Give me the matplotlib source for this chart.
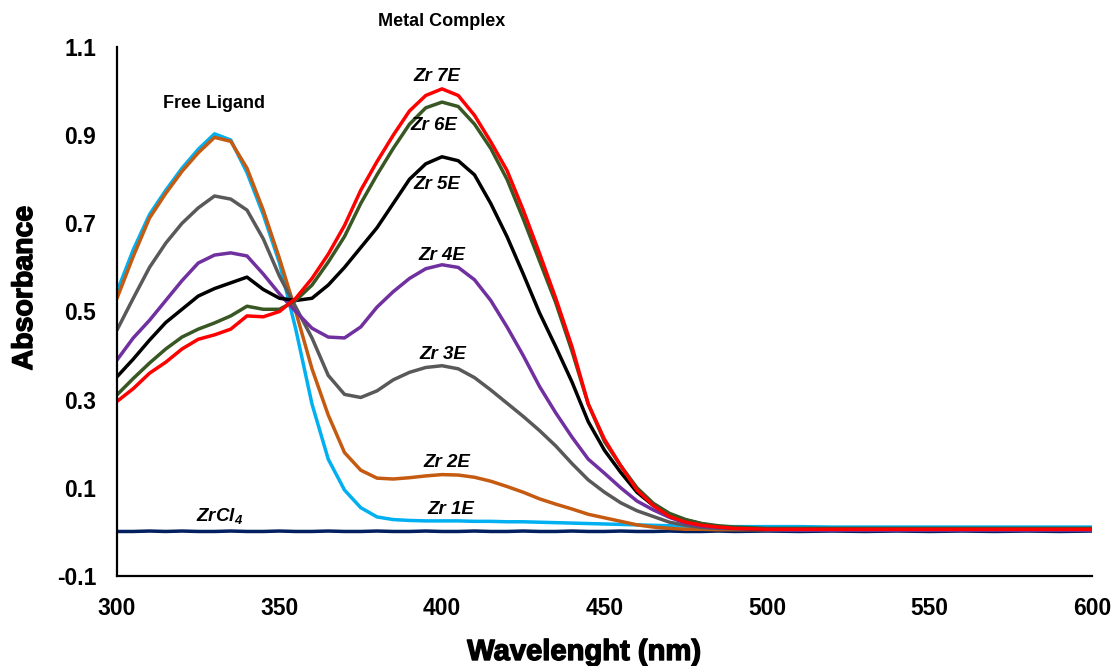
import matplotlib
matplotlib.use("Agg")
import matplotlib.pyplot as plt
import matplotlib.patheffects as pe

plt.rcParams['font.family'] = ['Liberation Sans', 'DejaVu Sans']
plt.rcParams['mathtext.fontset'] = 'custom'
plt.rcParams['mathtext.it'] = 'Liberation Sans:italic:bold'
plt.rcParams['mathtext.bf'] = 'Liberation Sans:italic:bold'
plt.rcParams['mathtext.rm'] = 'Liberation Sans:italic:bold'

# Wavelength grid (nm)
wavelength = [300, 305, 310, 315, 320, 325, 330, 335, 340, 345,
              350, 355, 360, 365, 370, 375, 380, 385, 390, 395,
              400, 405, 410, 415, 420, 425, 430, 435, 440, 445,
              450, 455, 460, 465, 470, 475, 480, 485, 490,
              500, 510, 520, 530, 540, 550, 560, 570, 580, 590, 600]

# Absorbance spectra
zrcl4 = [0.001, 0.001, 0.002, 0.001, 0.002, 0.001, 0.001, 0.002, 0.001, 0.001,
         0.002, 0.001, 0.001, 0.002, 0.001, 0.001, 0.002, 0.001, 0.001, 0.002,
         0.001, 0.001, 0.002, 0.001, 0.001, 0.002, 0.001, 0.001, 0.002, 0.001,
         0.001, 0.002, 0.001, 0.001, 0.002, 0.001, 0.001, 0.002, 0.001,
         0.002, 0.001, 0.002, 0.001, 0.002, 0.001, 0.002, 0.001, 0.002, 0.001, 0.002]

zr_1e = [0.545, 0.640, 0.720, 0.775, 0.825, 0.868, 0.903, 0.889, 0.815, 0.720,
         0.610, 0.460, 0.290, 0.165, 0.095, 0.055, 0.034, 0.028, 0.026, 0.025,
         0.025, 0.025, 0.024, 0.024, 0.023, 0.023, 0.022, 0.021, 0.020, 0.019,
         0.018, 0.017, 0.016, 0.015, 0.014, 0.013, 0.013, 0.012, 0.012,
         0.012, 0.012, 0.011, 0.011, 0.011, 0.011, 0.011, 0.011, 0.011, 0.011, 0.011]

zr_2e = [0.530, 0.625, 0.712, 0.768, 0.818, 0.860, 0.895, 0.886, 0.825, 0.730,
         0.620, 0.500, 0.370, 0.265, 0.180, 0.140, 0.122, 0.120, 0.123, 0.127,
         0.130, 0.129, 0.124, 0.115, 0.103, 0.090, 0.075, 0.063, 0.052, 0.040,
         0.032, 0.024, 0.016, 0.011, 0.008, 0.006, 0.006, 0.005, 0.005,
         0.005, 0.005, 0.005, 0.005, 0.005, 0.005, 0.005, 0.005, 0.005, 0.005, 0.005]

zr_3e = [0.458, 0.530, 0.600, 0.655, 0.700, 0.735, 0.762, 0.755, 0.730, 0.665,
         0.580, 0.510, 0.440, 0.355, 0.312, 0.305, 0.320, 0.345, 0.362, 0.373,
         0.377, 0.370, 0.350, 0.322, 0.292, 0.262, 0.230, 0.195, 0.155, 0.118,
         0.090, 0.066, 0.048, 0.035, 0.022, 0.015, 0.010, 0.008, 0.007,
         0.005, 0.005, 0.005, 0.005, 0.005, 0.005, 0.005, 0.005, 0.005, 0.005, 0.005]

zr_4e = [0.390, 0.440, 0.480, 0.525, 0.570, 0.610, 0.628, 0.633, 0.626, 0.585,
         0.540, 0.500, 0.462, 0.442, 0.440, 0.465, 0.510, 0.545, 0.575, 0.597,
         0.606, 0.600, 0.572, 0.525, 0.465, 0.400, 0.330, 0.270, 0.215, 0.165,
         0.133, 0.100, 0.070, 0.050, 0.033, 0.020, 0.013, 0.010, 0.008,
         0.005, 0.004, 0.004, 0.004, 0.004, 0.004, 0.004, 0.004, 0.004, 0.004, 0.004]

zr_5e = [0.352, 0.392, 0.435, 0.475, 0.505, 0.535, 0.552, 0.565, 0.578, 0.550,
         0.530, 0.525, 0.530, 0.560, 0.600, 0.645, 0.690, 0.745, 0.800, 0.835,
         0.851, 0.842, 0.810, 0.745, 0.670, 0.585, 0.497, 0.420, 0.340, 0.250,
         0.185, 0.135, 0.090, 0.060, 0.040, 0.027, 0.018, 0.012, 0.009,
         0.006, 0.006, 0.006, 0.006, 0.006, 0.006, 0.006, 0.006, 0.006, 0.006, 0.006]

zr_6e = [0.311, 0.348, 0.383, 0.415, 0.442, 0.460, 0.474, 0.490, 0.512, 0.505,
         0.505, 0.525, 0.560, 0.612, 0.670, 0.745, 0.810, 0.870, 0.925, 0.962,
         0.975, 0.965, 0.925, 0.870, 0.800, 0.710, 0.615, 0.520, 0.410, 0.290,
         0.205, 0.150, 0.100, 0.065, 0.042, 0.028, 0.019, 0.014, 0.011,
         0.008, 0.008, 0.008, 0.008, 0.008, 0.008, 0.008, 0.008, 0.008, 0.008, 0.008]

zr_7e = [0.296, 0.325, 0.360, 0.385, 0.415, 0.437, 0.447, 0.460, 0.490, 0.488,
         0.500, 0.530, 0.575, 0.630, 0.695, 0.775, 0.840, 0.900, 0.955, 0.990,
         1.005, 0.990, 0.945, 0.885, 0.820, 0.730, 0.632, 0.530, 0.420, 0.290,
         0.210, 0.150, 0.095, 0.060, 0.035, 0.022, 0.015, 0.011, 0.008,
         0.006, 0.006, 0.006, 0.006, 0.006, 0.006, 0.006, 0.006, 0.006, 0.006, 0.006]

series = [
    (zrcl4, '#002060'),
    (zr_1e, '#00B0F0'),
    (zr_2e, '#C55A11'),
    (zr_3e, '#595959'),
    (zr_4e, '#7030A0'),
    (zr_5e, '#000000'),
    (zr_6e, '#385723'),
    (zr_7e, '#FF0000'),
]

x_ticks = [300, 350, 400, 450, 500, 550, 600]
y_ticks = [-0.1, 0.1, 0.3, 0.5, 0.7, 0.9, 1.1]
y_tick_labels = ['-0.1', '0.1', '0.3', '0.5', '0.7', '0.9', '1.1']

# Curve labels: (text, x, y)
curve_labels = [
    ('Zr 7E', 398.5, 1.034),
    ('Zr 6E', 397.5, 0.921),
    ('Zr 5E', 398.5, 0.789),
    ('Zr 4E', 400.0, 0.628),
    ('Zr 3E', 400.3, 0.402),
    ('Zr 2E', 401.5, 0.157),
    ('Zr 1E', 402.8, 0.050),
    (r'ZrCl$_\mathbf{4}$', 331.7, 0.037),
]

fig = plt.figure(figsize=(11.14, 6.66), dpi=100)
ax = fig.add_axes([117 / 1114, 1 - 576 / 666, (1092 - 117) / 1114, (576 - 47) / 666])

for values, color in series:
    ax.plot(wavelength, values, color=color, lw=2.5,
            solid_capstyle='round', solid_joinstyle='round')

ax.set_xlim(300, 600)
ax.set_ylim(-0.1, 1.1)
ax.set_xticks(x_ticks)
ax.set_xticklabels([str(t) for t in x_ticks])
ax.set_yticks(y_ticks)
ax.set_yticklabels(y_tick_labels)
ax.tick_params(axis='both', length=0, labelsize=16.5, pad=15)
for lab in ax.get_xticklabels() + ax.get_yticklabels():
    lab.set_fontweight('bold')

for side in ('top', 'right'):
    ax.spines[side].set_visible(False)
for side in ('left', 'bottom'):
    ax.spines[side].set_linewidth(1.6)
    ax.spines[side].set_color('black')

for text, x, y in curve_labels:
    ax.text(x, y, text, ha='center', va='center', fontsize=13.5,
            fontweight='bold', fontstyle='italic', color='black')

ax.text(329.8, 0.971, 'Free Ligand', ha='center', va='center',
        fontsize=13, fontweight='bold')
ax.text(400.0, 1.157, 'Metal Complex', ha='center', va='center',
        fontsize=13, fontweight='bold', clip_on=False)

heavy = [pe.withStroke(linewidth=1.0, foreground='black')]
fig.text(584 / 1114, 1 - 652 / 666, 'Wavelenght (nm)', ha='center', va='center',
         fontsize=21, fontweight='bold', path_effects=heavy)
fig.text(25 / 1114, 1 - 288 / 666, 'Absorbance', ha='center', va='center',
         rotation=90, fontsize=20.5, fontweight='bold', path_effects=heavy)

fig.savefig('out.png', dpi=100, facecolor='white')
